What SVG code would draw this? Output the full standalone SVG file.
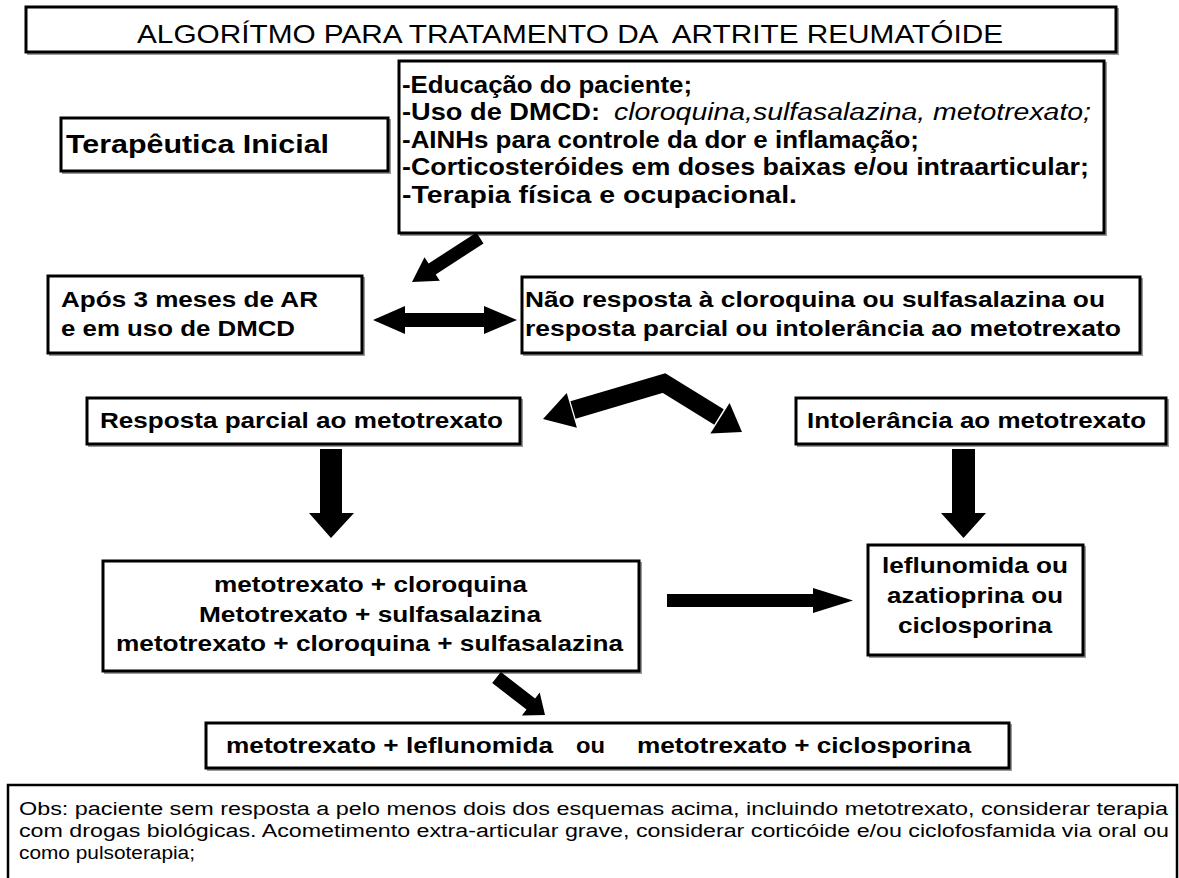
<svg xmlns="http://www.w3.org/2000/svg" width="1179" height="878" viewBox="0 0 1179 878">
<style>
.box{fill:#fff;stroke:#000;stroke-width:3}
.sh{fill:none;stroke:#9a9a9a;stroke-width:2}
text{font-family:"Liberation Sans",Arial,sans-serif;fill:#000}
.b{font-weight:bold;font-size:22px}
.t{font-size:25px}
.l{font-weight:bold;font-size:23px}
.o{font-size:18px}
.arr{fill:#000;stroke:none}
</style>
<rect width="1179" height="878" fill="#fff"/>
<g id="titulo">
<rect class="sh" x="28" y="9" width="1090" height="45"/>
<rect class="box" x="26" y="7" width="1090" height="45"/>
<text class="t" x="137" y="43" textLength="866" lengthAdjust="spacingAndGlyphs" xml:space="preserve">ALGORÍTMO PARA TRATAMENTO DA  ARTRITE REUMATÓIDE</text>
</g>
<g id="terapeutica-inicial">
<rect class="sh" x="63" y="120" width="327" height="53"/>
<rect class="box" x="61" y="118" width="327" height="53"/>
<text class="b" style="font-size:25px" x="66" y="153" textLength="263" lengthAdjust="spacingAndGlyphs">Terapêutica Inicial</text>
</g>
<g id="lista-inicial">
<rect class="sh" x="401" y="63" width="705" height="172"/>
<rect class="box" x="399" y="61" width="705" height="172"/>
<text class="l" x="402" y="93" textLength="290" lengthAdjust="spacingAndGlyphs">-Educação do paciente;</text>
<text class="l" x="402" y="120"><tspan textLength="198" lengthAdjust="spacingAndGlyphs">-Uso de DMCD:</tspan><tspan x="614" y="120" style="font-weight:normal;font-style:italic" textLength="477" lengthAdjust="spacingAndGlyphs">cloroquina,sulfasalazina, metotrexato;</tspan></text>
<text class="l" x="402" y="148" textLength="517" lengthAdjust="spacingAndGlyphs">-AINHs para controle da dor e inflamação;</text>
<text class="l" x="402" y="175" textLength="687" lengthAdjust="spacingAndGlyphs">-Corticosteróides em doses baixas e/ou intraarticular;</text>
<text class="l" x="402" y="203" textLength="395" lengthAdjust="spacingAndGlyphs">-Terapia física e ocupacional.</text>
</g>
<g id="apos-3-meses">
<rect class="sh" x="50" y="278" width="314" height="77"/>
<rect class="box" x="48" y="276" width="314" height="77"/>
<text class="b" x="61" y="307" textLength="257" lengthAdjust="spacingAndGlyphs">Após 3 meses de AR</text>
<text class="b" x="61" y="336" textLength="234" lengthAdjust="spacingAndGlyphs">e em uso de DMCD</text>
</g>
<g id="nao-resposta">
<rect class="sh" x="524" y="279" width="618" height="76"/>
<rect class="box" x="522" y="277" width="618" height="76"/>
<text class="b" x="525" y="307" textLength="580" lengthAdjust="spacingAndGlyphs">Não resposta à cloroquina ou sulfasalazina ou</text>
<text class="b" x="525" y="336" textLength="596" lengthAdjust="spacingAndGlyphs">resposta parcial ou intolerância ao metotrexato</text>
</g>
<g id="resposta-parcial">
<rect class="sh" x="89" y="400" width="433" height="46"/>
<rect class="box" x="87" y="398" width="433" height="46"/>
<text class="b" x="100" y="428" textLength="403" lengthAdjust="spacingAndGlyphs">Resposta parcial ao metotrexato</text>
</g>
<g id="intolerancia">
<rect class="sh" x="798" y="400" width="370" height="46"/>
<rect class="box" x="796" y="398" width="370" height="46"/>
<text class="b" x="807" y="428" textLength="339" lengthAdjust="spacingAndGlyphs">Intolerância ao metotrexato</text>
</g>
<g id="combinacoes">
<rect class="sh" x="105" y="563" width="536" height="110"/>
<rect class="box" x="103" y="561" width="536" height="110"/>
<text class="b" x="214" y="592" textLength="313" lengthAdjust="spacingAndGlyphs">metotrexato + cloroquina</text>
<text class="b" x="199" y="622" textLength="342" lengthAdjust="spacingAndGlyphs">Metotrexato + sulfasalazina</text>
<text class="b" x="116" y="651" textLength="507" lengthAdjust="spacingAndGlyphs">metotrexato + cloroquina + sulfasalazina</text>
</g>
<g id="alternativas">
<rect class="sh" x="870" y="547" width="215" height="110"/>
<rect class="box" x="868" y="545" width="215" height="110"/>
<text class="b" x="882" y="573" textLength="186" lengthAdjust="spacingAndGlyphs">leflunomida ou</text>
<text class="b" x="887" y="603" textLength="176" lengthAdjust="spacingAndGlyphs">azatioprina ou</text>
<text class="b" x="898" y="633" textLength="154" lengthAdjust="spacingAndGlyphs">ciclosporina</text>
</g>
<g id="associacoes">
<rect class="sh" x="208" y="725" width="803" height="45"/>
<rect class="box" x="206" y="723" width="803" height="45"/>
<text class="b" y="753"><tspan x="226" textLength="327" lengthAdjust="spacingAndGlyphs">metotrexato + leflunomida</tspan><tspan x="576" textLength="29" lengthAdjust="spacingAndGlyphs">ou</tspan><tspan x="637" textLength="334" lengthAdjust="spacingAndGlyphs">metotrexato + ciclosporina</tspan></text>
</g>
<g id="observacao">
<rect x="8" y="785" width="1169" height="110" fill="#fff" stroke="#000" stroke-width="2.5"/>
<text class="o" x="19" y="815" textLength="1149" lengthAdjust="spacingAndGlyphs">Obs: paciente sem resposta a pelo menos dois dos esquemas acima, incluindo metotrexato, considerar terapia</text>
<text class="o" x="19" y="837" textLength="1150" lengthAdjust="spacingAndGlyphs">com drogas biológicas. Acometimento extra-articular grave, considerar corticóide e/ou ciclofosfamida via oral ou</text>
<text class="o" x="19" y="859" textLength="176" lengthAdjust="spacingAndGlyphs">como pulsoterapia;</text>
</g>
<g id="conectores">
<polygon class="arr" points="476.5,232.5 428.6,263.5 424.5,257.2 412,282 439.8,280.7 435.7,274.4 483.5,243.5"/>
<polygon class="arr" points="373,320 405,306 405,313 484,313 484,306 517,320 484,334 484,327 405,327 405,334"/>
<polyline points="573,410 664,383 719,417" fill="none" stroke="#000" stroke-width="18" stroke-linejoin="miter"/>
<polygon class="arr" points="543,419 576.9,427.7 566.7,393.1"/>
<polygon class="arr" points="742,432 710.4,433.4 729.6,403"/>
<polygon class="arr" points="320,449 342,449 342,513 354,513 331,538 309,513 320,513"/>
<polygon class="arr" points="952,449 975,449 975,513 986,513 963.5,538 941,513 952,513"/>
<polygon class="arr" points="667,594 813,594 813,588 853,600.5 813,613 813,607 667,607"/>
<polygon class="arr" points="500.8,672 535.1,698.5 539.7,692.5 545,715 521.9,715.5 526.5,709.5 492.2,683"/>
</g>
</svg>
